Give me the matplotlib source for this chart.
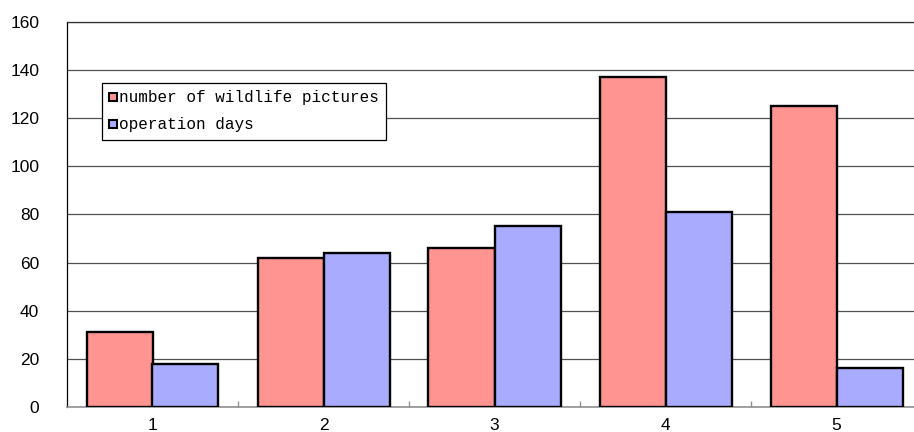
import matplotlib
matplotlib.use("Agg")
import matplotlib.pyplot as plt
import numpy as np

# survey sites and their counts
sites = ["1", "2", "3", "4", "5"]
wildlife_pictures = [31, 62, 66, 137, 125]
operation_days = [18, 64, 75, 81, 16]

RED = "#FF9490"
BLUE = "#A8ABFF"

fig = plt.figure(figsize=(9.14, 4.32), dpi=100)
ax = fig.add_axes([67 / 914, 25 / 432, 855 / 914, 385.3 / 432])

x = np.arange(1, len(sites) + 1)
w = 66 / 171
ax.bar(x - w / 2, wildlife_pictures, w, color=RED, edgecolor="black",
       linewidth=1.7, label="number of wildlife pictures", zorder=3)
ax.bar(x + w / 2, operation_days, w, color=BLUE, edgecolor="black",
       linewidth=1.7, label="operation days", zorder=3)

ax.set_xlim(0.5, 5.5)
ax.set_ylim(0, 160)
ax.set_yticks(range(0, 161, 20))
ax.set_xticks(x)
ax.set_xticklabels(sites)
ax.set_xticks(np.arange(1.5, 5.5, 1), minor=True)

ax.yaxis.grid(True, color="#505050", linewidth=0.9, zorder=0)
ax.set_axisbelow(True)

ax.spines["right"].set_visible(False)
ax.spines["top"].set_color("#303030")
ax.spines["top"].set_linewidth(0.9)
ax.spines["left"].set_color("black")
ax.spines["left"].set_linewidth(0.9)
ax.spines["bottom"].set_color("#909090")
ax.spines["bottom"].set_linewidth(1.2)

for lbl in ax.get_yticklabels() + ax.get_xticklabels():
    lbl.set_fontfamily(["Liberation Sans", "DejaVu Sans"])
    lbl.set_fontsize(12.5)
ax.tick_params(axis="y", length=0, pad=20)
ax.tick_params(axis="x", which="major", length=0, pad=8)
ax.tick_params(axis="x", which="minor", direction="in", length=4,
               color="#909090", width=1)

leg = ax.legend(loc="upper left", bbox_to_anchor=((101.7 - 67) / 855, (407 - 83.3) / 385.3),
                frameon=True, fancybox=False, shadow=False, framealpha=1,
                edgecolor="black", borderpad=0.45, labelspacing=0.75,
                handlelength=0.5, handleheight=0.4, handletextpad=0.15,
                borderaxespad=0,
                prop={"family": ["Liberation Mono", "DejaVu Sans Mono"], "size": 11.5})
leg.get_frame().set_linewidth(0.9)
for h in leg.legend_handles:
    h.set_linewidth(1.5)

plt.savefig("out.png", dpi=100)
